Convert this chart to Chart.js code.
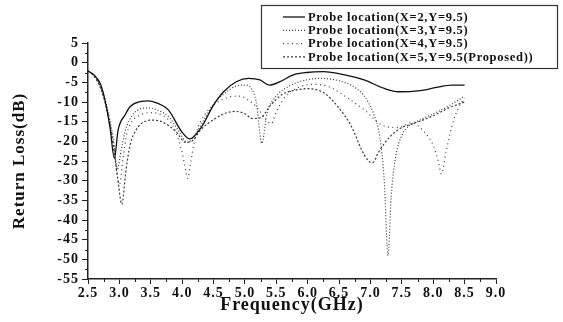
<!DOCTYPE html>
<html>
<head>
<meta charset="utf-8">
<script src="https://cdn.jsdelivr.net/npm/chart.js@4.4.1/dist/chart.umd.min.js"></script>
<style>
html, body { margin: 0; padding: 0; background: #fff; }
#wrap { width: 563px; height: 322px; }
</style>
</head>
<body>
<div id="wrap"><canvas id="rlChart"></canvas></div>
<script>
// Return loss curves (GHz / dB)
var freq2 = [2.5, 2.6, 2.7, 2.77, 2.85, 2.92, 2.98, 3.09, 3.17, 3.33, 3.46, 3.59, 3.78, 3.99, 4.12, 4.31, 4.5, 4.66, 4.87, 5.06, 5.24, 5.39, 5.56, 5.77, 5.98, 6.25, 6.59, 6.9, 7.21, 7.45, 7.79, 8.05, 8.29, 8.5];
var loss2 = [-2.1, -3.2, -5.5, -9.5, -16.4, -24.3, -17.1, -13.3, -11.2, -9.9, -9.7, -10.2, -12, -17.5, -19.4, -16.3, -10.8, -7.4, -4.8, -4.0, -4.4, -5.7, -4.8, -3.1, -2.5, -2.3, -3.1, -4.4, -6.5, -7.4, -7.1, -6.3, -5.7, -5.7];

var freq3 = [2.5, 2.6, 2.7, 2.8, 2.9, 2.97, 3.03, 3.1, 3.2, 3.3, 3.45, 3.6, 3.8, 3.95, 4.08, 4.2, 4.35, 4.5, 4.7, 4.85, 5.0, 5.1, 5.18, 5.27, 5.35, 5.5, 5.7, 5.9, 6.2, 6.5, 6.7, 6.9, 7.05, 7.15, 7.22, 7.28, 7.33, 7.4, 7.5, 7.62, 7.8, 8.0, 8.25, 8.5];
var loss3 = [-2.1, -3.3, -6, -11, -19, -27, -22, -17, -13.5, -12, -11.5, -12, -14, -17.5, -20.3, -18.5, -14.5, -10.5, -7.5, -6, -5.7, -6.5, -10, -20.5, -13, -8.5, -6, -4.7, -4, -4.6, -5.8, -8.5, -13, -19, -30, -49, -34, -24, -18.5, -16, -14.5, -13, -11, -8.5];

var freq4 = [2.5, 2.6, 2.7, 2.8, 2.9, 3.0, 3.06, 3.12, 3.2, 3.35, 3.5, 3.7, 3.85, 3.97, 4.04, 4.09, 4.14, 4.22, 4.35, 4.5, 4.65, 4.8, 4.92, 5.05, 5.2, 5.33, 5.42, 5.5, 5.65, 5.85, 6.1, 6.35, 6.6, 6.9, 7.2, 7.45, 7.65, 7.85, 8.0, 8.08, 8.13, 8.2, 8.3, 8.4, 8.5];
var loss4 = [-2.1, -3.4, -6.2, -11.5, -20, -31, -24, -18, -15, -13.2, -12.7, -13.5, -16, -21, -26, -29.4, -25, -18, -13.5, -10.8, -9.3, -8.6, -8.5, -9.5, -11.5, -14.5, -15.5, -12.5, -8.5, -6.3, -5.5, -6.2, -8.6, -12, -16, -16.5, -15.3, -17.5, -21, -25, -28.3, -23, -16, -11.5, -9];

var freq5 = [2.5, 2.6, 2.7, 2.8, 2.9, 2.97, 3.04, 3.1, 3.17, 3.27, 3.4, 3.55, 3.7, 3.9, 4.05, 4.15, 4.3, 4.5, 4.7, 4.85, 5.0, 5.12, 5.25, 5.4, 5.6, 5.8, 6.0, 6.27, 6.48, 6.7, 6.86, 6.97, 7.04, 7.12, 7.3, 7.5, 7.62, 7.8, 8.0, 8.25, 8.5];
var loss5 = [-2.1, -3.5, -6.5, -12, -21, -29, -36, -28, -21, -17, -15, -14.6, -15.2, -17.5, -20.2, -20, -17, -14.5, -12.8, -12.4, -13, -14.2, -14, -11, -8, -7, -6.6, -7.8, -11.2, -16.3, -22.2, -25, -25.4, -23, -19, -16.5, -15.8, -14.8, -13.5, -11.5, -10];

var seriesNames = ['Probe location(X=2,Y=9.5)', 'Probe location(X=3,Y=9.5)', 'Probe location(X=4,Y=9.5)', 'Probe location(X=5,Y=9.5(Proposed))'];
var seriesDash = [[], [1, 2], [1, 3.5], [2, 2]];

var xMin = 2.5, xMax = 9.0, xStep = 0.5;
var yMin = -55, yMax = 5, yStep = 5;

var serif = "'Liberation Serif', 'Times New Roman', serif";

function pts(f, l) {
    var out = [];
    for (var i = 0; i < f.length; i++) out.push({x: f[i], y: l[i]});
    return out;
}

function mkSet(i, f, l) {
    return {
        label: seriesNames[i],
        data: pts(f, l),
        borderColor: i == 0 ? '#111' : '#3a3a3a',
        borderWidth: i == 0 ? 1.3 : 1.2,
        borderDash: seriesDash[i],
        pointRadius: 0,
        fill: false,
        cubicInterpolationMode: 'monotone'
    };
}

var extras = {
    id: 'extras',
    beforeUpdate: function(chart) { chart.ctx.letterSpacing = '1px'; },
    beforeDraw: function(chart) { chart.ctx.letterSpacing = '1px'; },
    afterDraw: function(chart) {
        var ctx = chart.ctx, xs = chart.scales.x, ys = chart.scales.y;
        ctx.save();
        // minor ticks
        ctx.strokeStyle = '#222';
        ctx.lineWidth = 1;
        ctx.beginPath();
        for (var v = xMin + xStep / 2; v < xMax; v += xStep) {
            var px = Math.round(xs.getPixelForValue(v)) + 0.5;
            ctx.moveTo(px, ys.bottom);
            ctx.lineTo(px, ys.bottom + 3);
        }
        for (var w = yMin + yStep / 2; w < yMax; w += yStep) {
            var py = Math.round(ys.getPixelForValue(w)) + 0.5;
            ctx.moveTo(xs.left, py);
            ctx.lineTo(xs.left - 3, py);
        }
        ctx.stroke();

        // legend box
        var bx = 261.5, by = 5.5, bw = 296, bh = 63;
        ctx.fillStyle = '#fff';
        ctx.fillRect(bx, by, bw, bh);
        ctx.strokeStyle = '#333';
        ctx.lineWidth = 1.2;
        ctx.strokeRect(bx, by, bw, bh);
        ctx.letterSpacing = '0.7px';
        ctx.font = 'bold 12.5px ' + serif;
        ctx.textBaseline = 'middle';
        ctx.fillStyle = '#111';
        var ds = chart.data.datasets;
        for (var k = 0; k < ds.length; k++) {
            var ry = 17 + k * 13.3;
            ctx.strokeStyle = ds[k].borderColor;
            ctx.lineWidth = ds[k].borderWidth;
            ctx.setLineDash(ds[k].borderDash);
            ctx.beginPath();
            ctx.moveTo(283, ry);
            ctx.lineTo(305, ry);
            ctx.stroke();
            ctx.setLineDash([]);
            ctx.fillText(ds[k].label, 308, ry + 0.5);
        }
        ctx.restore();
    }
};

var ctx = document.getElementById('rlChart').getContext('2d');
var rlChart = new Chart(ctx, {
    type: 'line',
    data: {
        datasets: [
            mkSet(0, freq2, loss2),
            mkSet(1, freq3, loss3),
            mkSet(2, freq4, loss4),
            mkSet(3, freq5, loss5)
        ]
    },
    options: {
        responsive: true,
        maintainAspectRatio: false,
        animation: false,
        layout: { padding: { top: 43, right: 67, left: 0, bottom: 0 } },
        plugins: { legend: { display: false }, tooltip: { enabled: false } },
        scales: {
            x: {
                type: 'linear',
                min: xMin, max: xMax,
                afterFit: function(s) { s.height = 43; },
                border: { display: true, color: '#222', width: 1.5 },
                grid: { drawOnChartArea: false, drawTicks: true, tickLength: 5, color: '#222' },
                ticks: {
                    stepSize: xStep,
                    padding: 1,
                    autoSkip: false,
                    color: '#111',
                    font: { family: serif, size: 14, weight: 'bold' },
                    maxRotation: 0,
                    callback: function(v) { return Number(v).toFixed(1); }
                },
                title: {
                    display: true,
                    text: 'Frequency(GHz)',
                    color: '#111',
                    font: { family: serif, size: 18, weight: 'bold' },
                    padding: { top: 0, bottom: 6 }
                }
            },
            y: {
                min: yMin, max: yMax,
                afterFit: function(s) { s.width = 88; },
                border: { display: true, color: '#222', width: 1.5 },
                grid: { drawOnChartArea: false, drawTicks: true, tickLength: 6, color: '#222' },
                ticks: {
                    stepSize: yStep,
                    padding: 3,
                    autoSkip: false,
                    color: '#111',
                    font: { family: serif, size: 14, weight: 'bold' },
                    callback: function(v) { return String(v); }
                },
                title: {
                    display: true,
                    text: 'Return Loss(dB)',
                    color: '#111',
                    font: { family: serif, size: 17, weight: 'bold' },
                    padding: { top: 9, bottom: 0 }
                }
            }
        }
    },
    plugins: [extras]
});
</script>
</body>
</html>
